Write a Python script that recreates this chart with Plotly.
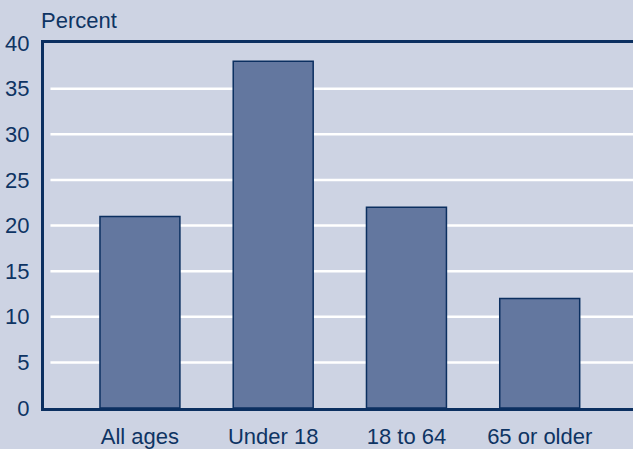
import plotly.graph_objects as go

categories = ["All ages", "Under 18", "18 to 64", "65 or older"]
values = [21, 38, 22, 12]
y_ticks = [0, 5, 10, 15, 20, 25, 30, 35, 40]
y_title = "Percent"

NAVY = "#0B2F60"
TEXT = "#0E3463"
BG = "#CDD3E3"
BAR = "#63779F"
FONT = "Liberation Sans, Arial, sans-serif"
FS = 22

fig = go.Figure()
fig.add_trace(go.Bar(
    x=list(range(len(categories))), y=values, width=0.6,
    marker=dict(color=BAR, line=dict(color=NAVY, width=1.5)),
    hoverinfo="skip",
))

shapes = []
for t in y_ticks[1:-1]:
    shapes.append(dict(type="line", xref="x domain", yref="y", x0=0.011, x1=1,
                       y0=t, y1=t, line=dict(color="white", width=2.5), layer="below"))

fig.update_layout(
    width=633, height=449,
    margin=dict(l=44, r=0, t=43, b=39),
    paper_bgcolor=BG, plot_bgcolor=BG,
    showlegend=False,
    font=dict(family=FONT, color=TEXT, size=FS),
    shapes=shapes,
    xaxis=dict(range=[-0.72, 3.7], tickvals=list(range(len(categories))),
               ticktext=categories, showgrid=False, zeroline=False,
               showline=True, mirror=True, linecolor=NAVY, linewidth=3,
               ticks="", ticklabelstandoff=7, tickfont=dict(size=FS, color=TEXT)),
    yaxis=dict(range=[0, 40], tickvals=y_ticks, showgrid=False, zeroline=False,
               showline=True, linecolor=NAVY, linewidth=3, ticks="",
               ticklabelstandoff=7, tickfont=dict(size=FS, color=TEXT)),
    annotations=[dict(text=y_title, xref="paper", yref="paper", x=-0.009, y=1.0,
                      xanchor="left", yanchor="bottom", yshift=8, showarrow=False,
                      font=dict(size=FS, color=TEXT))],
)

fig.write_html("out.html", config={"displayModeBar": False},
               post_script="document.body.style.margin='0';document.body.style.overflow='hidden';")
